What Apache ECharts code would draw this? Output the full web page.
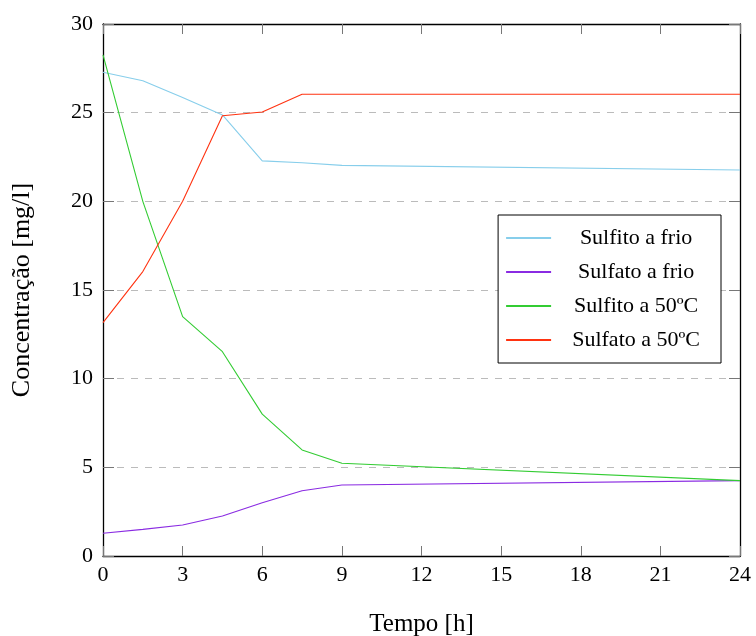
<!DOCTYPE html>
<html><head><meta charset="utf-8">
<script src="https://cdn.jsdelivr.net/npm/echarts@6/dist/echarts.min.js"></script>
<style>html,body{margin:0;padding:0;background:#fff}#c{width:756px;height:636px}</style>
</head><body><div id="c"></div>
<script>
const times = [0, 1.5, 3, 4.5, 6, 7.5, 9, 24];
const sulfitoFrio = [27.28, 26.8, 25.85, 24.87, 22.28, 22.18, 22.03, 21.77];
const sulfatoFrio = [1.28, 1.5, 1.75, 2.26, 3.0, 3.68, 4.0, 4.25];
const sulfito50 = [28.26, 20.0, 13.5, 11.52, 8.0, 5.98, 5.23, 4.25];
const sulfato50 = [13.16, 16.04, 20.0, 24.83, 25.04, 26.04, 26.04, 26.04];
const seriesNames = ['Sulfito a frio', 'Sulfato a frio', 'Sulfito a 50ºC', 'Sulfato a 50ºC'];
const colors = ['#87ceeb', '#8a2be2', '#33cc33', '#ff3311'];
const xTicks = [0, 3, 6, 9, 12, 15, 18, 21, 24];
const yTicks = [0, 5, 10, 15, 20, 25, 30];

const font = 'Liberation Serif';
const chart = echarts.init(document.getElementById('c'));
const mk = (arr) => times.map((t, i) => [t, arr[i]]);
const all = [sulfitoFrio, sulfatoFrio, sulfito50, sulfato50];
chart.setOption({
  animation: false,
  textStyle: {fontFamily: font},
  grid: {left: 103, right: 16, top: 24, bottom: 80, containLabel: false, outerBoundsMode: 'none'},
  legend: {
    right: 35, top: 215, orient: 'vertical',
    itemWidth: 45, itemHeight: 2, itemGap: 12,
    padding: [12, 21, 12, 8],
    borderColor: '#000', borderWidth: 1, backgroundColor: '#fff',
    icon: 'rect',
    formatter: n => '{a|' + n + '}',
    textStyle: {width: 160, rich: {a: {fontFamily: font, fontSize: 22, color: '#000', width: 160, align: 'center'}}},
    data: seriesNames
  },
  xAxis: [{
    type: 'value', min: 0, max: 24, interval: 3,
    name: 'Tempo [h]', nameLocation: 'middle', nameGap: 56,
    nameTextStyle: {fontFamily: font, fontSize: 25, color: '#000'},
    axisLine: {show: true, onZero: false, lineStyle: {color: '#000', width: 1.3}},
    axisTick: {show: true, inside: true, length: 10, lineStyle: {color: '#777'}},
    axisLabel: {fontFamily: font, fontSize: 22, color: '#000', margin: 8},
    splitLine: {show: false}
  }, {
    type: 'value', position: 'top', min: 0, max: 24, interval: 3,
    axisLine: {show: true, onZero: false, lineStyle: {color: '#000', width: 1.3}},
    axisTick: {show: true, inside: true, length: 10, lineStyle: {color: '#777'}},
    axisLabel: {show: false}, splitLine: {show: false}
  }],
  yAxis: [{
    type: 'value', min: 0, max: 30, interval: 5,
    name: 'Concentração [mg/l]', nameLocation: 'middle', nameGap: 68,
    nameTextStyle: {fontFamily: font, fontSize: 26, color: '#000'},
    axisLine: {show: true, onZero: false, lineStyle: {color: '#000', width: 1.3}},
    axisTick: {show: true, inside: true, length: 11, lineStyle: {color: '#777'}},
    axisLabel: {fontFamily: font, fontSize: 22, color: '#000', margin: 10},
    splitLine: {show: true, lineStyle: {color: '#bbb', type: [7, 7], width: 1}}
  }, {
    type: 'value', position: 'right', min: 0, max: 30, interval: 5,
    axisLine: {show: true, onZero: false, lineStyle: {color: '#000', width: 1.3}},
    axisTick: {show: true, inside: true, length: 11, lineStyle: {color: '#777'}},
    axisLabel: {show: false}, splitLine: {show: false}
  }],
  series: seriesNames.map((n, i) => ({
    name: n, type: 'line', data: mk(all[i]),
    symbol: 'none', color: colors[i],
    lineStyle: {width: 1.1, color: colors[i]}
  }))
});
</script></body></html>
